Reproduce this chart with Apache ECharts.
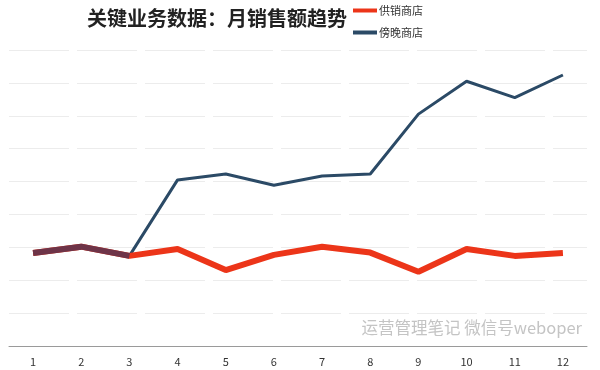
<!DOCTYPE html>
<html>
<head>
<meta charset="utf-8">
<script src="https://cdn.jsdelivr.net/npm/echarts@6/dist/echarts.min.js"></script>
<style>html,body{margin:0;padding:0;background:#fff}#c{width:600px;height:370px}</style>
</head>
<body>
<div id="c"></div>
<script>
const months = ['1','2','3','4','5','6','7','8','9','10','11','12'];
const supplyStore = [2.83, 3.02, 2.74, 2.95, 2.31, 2.77, 3.02, 2.84, 2.26, 2.95, 2.74, 2.83];
const eveningStore = [2.83, 3.02, 2.74, 5.05, 5.23, 4.89, 5.17, 5.23, 7.05, 8.05, 7.55, 8.24];
const seriesNames = ['供销商店', '傍晚商店'];
const titleText = '关键业务数据：月销售额趋势';
const watermark = '运营管理笔记 微信号weboper';
const overlapCount = 3; // months 1-3 where both lines coincide

const overlap = supplyStore.map((v, i) => i < overlapCount ? v : null);

const chart = echarts.init(document.getElementById('c'), null, {renderer: 'canvas'});
chart.setOption({
  animation: false,
  textStyle: {fontFamily: '"Noto Sans CJK SC", "Noto Sans", sans-serif'},
  title: {
    text: titleText, left: 82, top: 3,
    textStyle: {fontSize: 20, fontWeight: 'bold', color: '#222', fontFamily: '"Noto Sans CJK SC", sans-serif'}
  },
  legend: {
    orient: 'vertical', left: 348, top: 0,
    itemWidth: 24, itemHeight: 4, itemGap: 11,
    icon: 'rect',
    data: seriesNames,
    textStyle: {fontSize: 11, color: '#333', padding: [0, 0, 0, -3]}
  },
  grid: {left: 9, right: 13, top: 50, bottom: 24},
  xAxis: {
    type: 'category', data: months, boundaryGap: true,
    axisLine: {lineStyle: {color: '#9a9a9a', width: 1}},
    axisTick: {show: false},
    axisLabel: {color: '#333', fontSize: 11, margin: 10}
  },
  yAxis: {
    type: 'value', min: 0, max: 9, interval: 1,
    axisLabel: {show: false}, axisLine: {show: false}, axisTick: {show: false},
    splitLine: {lineStyle: {color: '#ececec', type: [60, 8], width: 1}}
  },
  series: [
    {
      name: seriesNames[0], type: 'line', data: supplyStore, symbol: 'none', z: 3,
      itemStyle: {color: '#ec3519'},
      lineStyle: {color: '#ec3519', width: 6}
    },
    {
      name: seriesNames[1], type: 'line', data: eveningStore, symbol: 'none', z: 2,
      itemStyle: {color: '#2b4a66'},
      lineStyle: {color: '#2b4a66', width: 3}
    },
    {
      name: 'overlap', type: 'line', data: overlap, symbol: 'none', z: 4,
      connectNulls: false,
      itemStyle: {color: '#6e3448'},
      lineStyle: {color: '#6e3448', width: 6}
    }
  ],
  graphic: [{
    type: 'text', right: 18, top: 319,
    style: {text: watermark, fontSize: 16.5, fill: '#c4c4c4', fontFamily: '"Noto Sans CJK SC", sans-serif'}
  }]
});
</script>
</body>
</html>
